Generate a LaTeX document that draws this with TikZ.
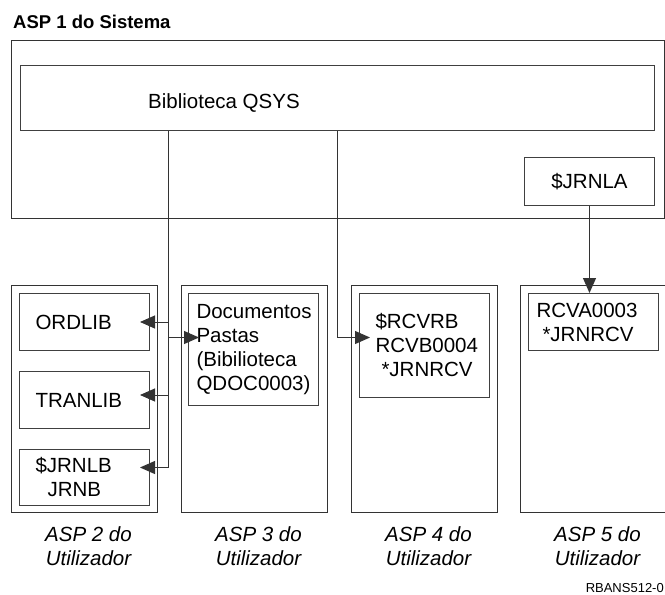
\documentclass[tikz,border=0pt]{standalone}
\usepackage{fontspec}
\setmainfont{Liberation Sans}
\usetikzlibrary{positioning,arrows.meta,calc}

\begin{document}
\begin{tikzpicture}[x=1pt, y=-1pt,
    aspbox/.style={draw=black!80, line width=1pt, minimum width=146pt,
        minimum height=227pt, inner sep=0pt},
    libbox/.style={draw=black!75, line width=1pt, align=left,
        font=\fontsize{20.5}{24}\selectfont, inner xsep=8pt, inner ysep=3pt,
        text width=114pt, minimum height=57pt},
    wide/.style={inner xsep=16pt, text width=98pt},
    feed/.style={draw=black!80, line width=1pt,
        -{Triangle[length=15pt, width=13pt]}},
    asplbl/.style={font=\fontsize{20.5}{24}\selectfont\itshape,
        align=center, inner sep=0pt},
]
\useasboundingbox (0,0) rectangle (665,595);

% System ASP with QSYS and the journal
\node[anchor=base west, inner sep=0pt, font=\fontsize{18.5}{22}\selectfont\bfseries]
    (title) at (13,28) {ASP 1 do Sistema};
\node[draw=black!80, line width=1pt, minimum width=653pt, minimum height=178pt,
    anchor=north west] (asp1) at (11,40) {};
\node[draw=black!75, line width=1pt, minimum width=634pt, minimum height=65pt,
    anchor=north west] (qsys) at (20,65) {};
\node[anchor=west, inner sep=0pt, font=\fontsize{20.5}{24}\selectfont]
    (qsyslbl) at (148,103) {Biblioteca QSYS};
\node[libbox, align=center, minimum height=48pt, anchor=north west]
    (jrnla) at (524,157) {\$JRNLA};

% Four user ASPs
\node[aspbox, anchor=north west] (asp2) at (11,285) {};
\node[aspbox, right=23pt of asp2] (asp3) {};
\node[aspbox, right=23pt of asp3] (asp4) {};
\node[aspbox, right=22pt of asp4] (asp5) {};

% Libraries and receivers inside them
\node[libbox, wide, below right=8pt and 8pt of asp2.north west] (ordlib) {ORDLIB};
\node[libbox, wide, below=20pt of ordlib] (tranlib) {TRANLIB};
\node[libbox, wide, below=20pt of tranlib, minimum height=56pt]
    (jrnlb) {\$JRNLB\\\hspace*{12pt}JRNB};
\node[libbox, minimum height=112pt, below right=8pt and 7pt of asp3.north west]
    (docs) {Documentos\\Pastas\\(Bibilioteca\\QDOC0003)};
\node[libbox, wide, minimum height=104pt, below right=8pt and 8pt of asp4.north west]
    (rcvrb) {\$RCVRB\\RCVB0004\\\hspace*{6pt}*JRNRCV};
\node[libbox, below right=8pt and 8pt of asp5.north west]
    (rcva) {RCVA0003\\\hspace*{6pt}*JRNRCV};

% ASP names
\node[asplbl, below=13pt of asp2, xshift=4pt] (cap2) {ASP 2 do\\Utilizador};
\node[asplbl, below=13pt of asp3, xshift=4pt] (cap3) {ASP 3 do\\Utilizador};
\node[asplbl, below=13pt of asp4, xshift=4pt] (cap4) {ASP 4 do\\Utilizador};
\node[asplbl, below=13pt of asp5, xshift=4pt] (cap5) {ASP 5 do\\Utilizador};

\node[anchor=east, inner sep=0pt, font=\fontsize{13}{15}\selectfont]
    (figid) at (664,588) {RBANS512-0};

% Where the links leave QSYS and enter the boxes
\coordinate (tapL) at ([xshift=-169pt]qsys.south);
\coordinate (ordin) at (ordlib.east);
\coordinate (tranin) at ([yshift=5pt]tranlib.east);
\coordinate (jrnbin) at ([yshift=10pt]jrnlb.east);
\coordinate (docin) at ([yshift=12pt]docs.west);
\coordinate (rcvin) at ([yshift=8pt]rcvrb.west);

\draw[feed, shorten >=-10pt] (tapL) |- (jrnbin);
\draw[feed, shorten >=-10pt] (tapL |- ordin) -- (ordin);
\draw[feed, shorten >=-10pt] (tapL |- tranin) -- (tranin);
\draw[feed, shorten >=-11pt] (tapL |- docin) -- (docin);
\draw[feed, shorten >=-11pt] (qsys.south) |- (rcvin);
\draw[feed] (jrnla.south) -- (jrnla.south |- rcva.north);

\end{tikzpicture}
\end{document}
